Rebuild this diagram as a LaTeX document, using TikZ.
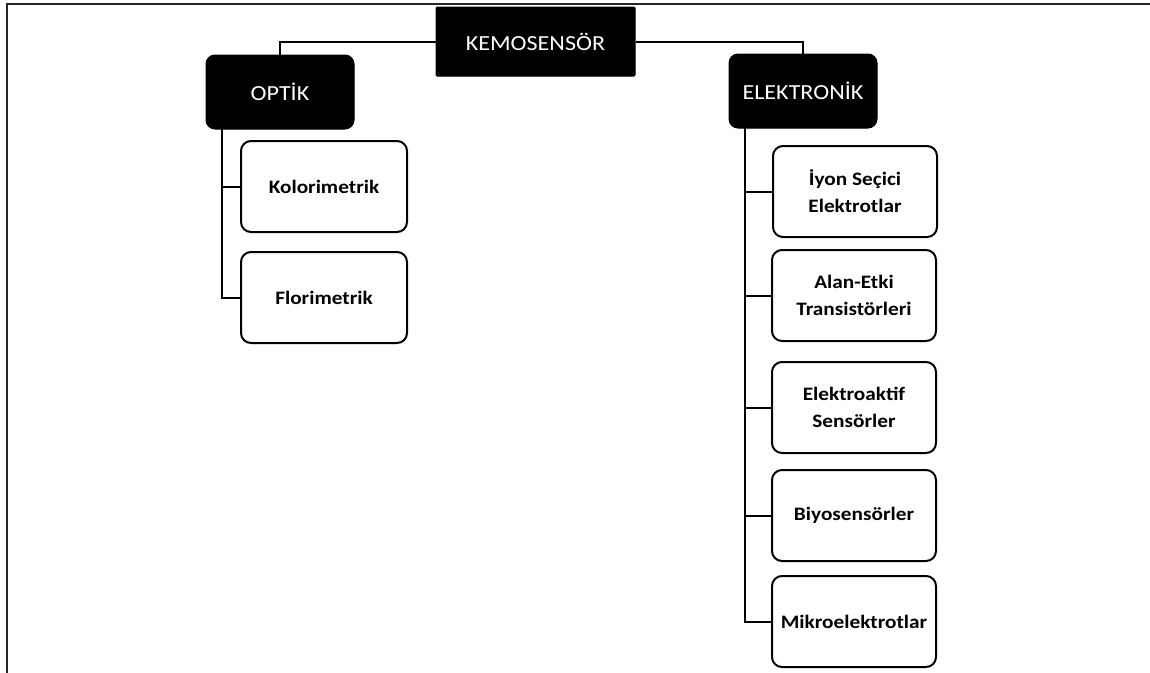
\documentclass[tikz,border=0pt]{standalone}
\usepackage{fontspec}
\setmainfont[FakeStretch=1.12]{Carlito}
\usetikzlibrary{calc}
\tikzset{
  head/.style={fill=black, draw=black, text=white, rounded corners=9pt, inner sep=0pt,
    font=\fontsize{21.5}{26}\selectfont, line width=1pt},
  child/.style={fill=white, draw=black, rounded corners=10pt, line width=2pt, inner sep=0pt,
    align=center, minimum width=164pt, minimum height=91pt,
    font=\bfseries\fontsize{19}{27}\selectfont},
  conn/.style={line width=2pt, draw=black},
  frame/.style={line width=2.2pt, draw=black!85}
}
\begin{document}
\begin{tikzpicture}[x=1pt, y=-1pt]
\useasboundingbox (0,0) rectangle (1150,672);
\begin{scope}
\clip (0,0) rectangle (1150,672);
\draw[frame] (7,680) -- (7,4) -- (1160,4);
\end{scope}

\node[head, rounded corners=1pt, minimum width=199pt, minimum height=69pt] (kemo) at (535.5,41.5) {KEMOSENSÖR};
\node[head, minimum width=148pt, minimum height=74pt] (optik) at (280,92) {OPTİK};
\node[head, minimum width=148pt, minimum height=74pt] (elek) at (803,91) {ELEKTRONİK};

\node[child, minimum width=166pt] (kolo) at (324,186.5) {Kolorimetrik};
\node[child, minimum width=166pt] (flor) at (324,297.5) {Florimetrik};

\node[child] (iyon) at (855,191.5) {İyon Seçici\\Elektrotlar};
\node[child] (alan) at (854,295.5) {Alan-Etki\\Transistörleri};
\node[child] (elak) at (854,407.5) {Elektroaktif\\Sensörler};
\node[child] (biyo) at (854,515.5) {Biyosensörler};
\node[child] (mikro) at (854,621.5) {Mikroelektrotlar};

\draw[conn] (kemo.west) -| (optik.north);
\draw[conn] (kemo.east) -| (elek.north);

\coordinate (ot) at (222,129);
\draw[conn] (ot) |- (flor.west);
\draw[conn] (ot |- kolo.west) -- (kolo.west);

\coordinate (et) at (745,128);
\draw[conn] (et) |- (mikro.west);
\draw[conn] (et |- iyon.west) -- (iyon.west);
\draw[conn] (et |- alan.west) -- (alan.west);
\draw[conn] (et |- elak.west) -- (elak.west);
\draw[conn] (et |- biyo.west) -- (biyo.west);
\end{tikzpicture}
\end{document}
